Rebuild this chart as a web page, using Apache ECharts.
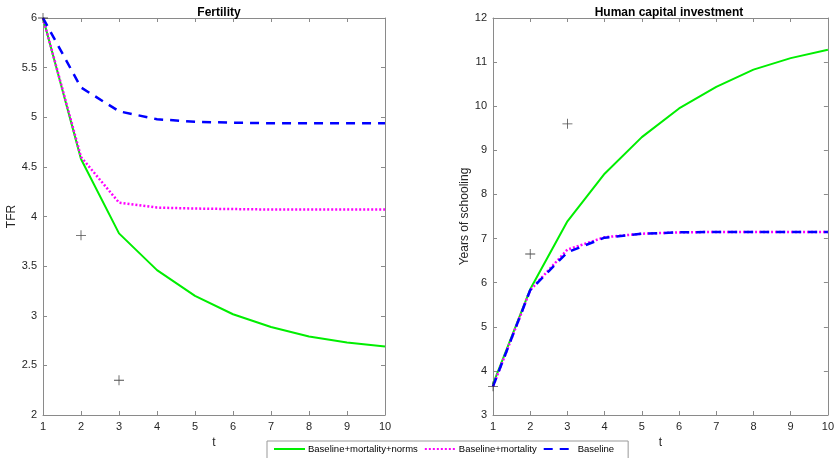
<!DOCTYPE html>
<html><head><meta charset="utf-8">
<script src="https://cdn.jsdelivr.net/npm/echarts@6/dist/echarts.min.js"></script>
<style>html,body{margin:0;padding:0;background:#fff}#c{width:837px;height:458px}</style>
</head><body><div id="c"></div>
<script>
var t = [1,2,3,4,5,6,7,8,9,10];
var tfrNorms = [6, 4.58, 3.83, 3.46, 3.20, 3.015, 2.887, 2.79, 2.73, 2.69];
var tfrMort  = [6, 4.60, 4.14, 4.09, 4.08, 4.075, 4.07, 4.07, 4.07, 4.07];
var tfrBase  = [6, 5.30, 5.06, 4.98, 4.955, 4.945, 4.94, 4.94, 4.94, 4.94];
var tfrData  = [[1,6],[2,3.81],[3,2.35]];
var schNorms = [3.70, 5.85, 7.39, 8.47, 9.30, 9.95, 10.44, 10.83, 11.09, 11.28];
var schMort  = [3.65, 5.83, 6.75, 7.03, 7.11, 7.14, 7.15, 7.15, 7.15, 7.15];
var schBase  = [3.65, 5.83, 6.69, 7.02, 7.11, 7.14, 7.15, 7.15, 7.15, 7.15];
var schData  = [[1,3.65],[2,6.65],[3,9.6]];
var names = ['Baseline+mortality+norms','Baseline+mortality','Baseline'];

function pairs(v){ return t.map(function(x,i){ return [x, v[i]]; }); }
var FONT = 'Liberation Sans, Arial, sans-serif';
var axCol = '#8a8a8a', txtCol = '#262626';
function xAx(grid, top){
  return {type:'value', gridIndex:grid, min:1, max:10, interval:1, position: top?'top':'bottom',
    name: top?'':'t', nameLocation:'middle', nameGap:20, nameTextStyle:{color:txtCol, fontSize:12, fontFamily:FONT},
    axisLine:{show:true, onZero:false, lineStyle:{color:axCol}},
    axisTick:{show:true, inside:true, length:4, lineStyle:{color:axCol}},
    axisLabel:{show:!top, color:txtCol, fontSize:11, fontFamily:FONT, margin:6},
    splitLine:{show:false}};
}
function yAx(grid, right, min, max, interval, name){
  return {type:'value', gridIndex:grid, min:min, max:max, interval:interval, position: right?'right':'left',
    name: right?'':name, nameLocation:'middle', nameGap: grid===0?21:17, nameRotate:90,
    nameTextStyle:{color:txtCol, fontSize:12, fontFamily:FONT},
    axisLine:{show:true, onZero:false, lineStyle:{color:axCol}},
    axisTick:{show:true, inside:true, length:4, lineStyle:{color:axCol}},
    axisLabel:{show:!right, color:txtCol, fontSize:11, fontFamily:FONT, margin:6},
    splitLine:{show:false}};
}
var plus = 'path://M4.6,0h0.8v10h-0.8z M0,4.6h10v0.8h-10z';
function line(name, xi, yi, data, color, type, w){
  return {name:name, type:'line', xAxisIndex:xi, yAxisIndex:yi, data:pairs(data), symbol:'none',
    lineStyle:{color:color, width:w, type:type}, itemStyle:{color:color}, silent:true, animation:false, z:3};
}
function sc(xi, yi, data){
  return {type:'scatter', xAxisIndex:xi, yAxisIndex:yi, data:data, symbol:plus, symbolSize:10,
    itemStyle:{color:'#222'}, silent:true, animation:false, z:4};
}
var dash = [9,7];
var chart = echarts.init(document.getElementById('c'), null, {renderer:'canvas'});
chart.setOption({
  animation:false,
  backgroundColor:'#fff',
  title:[
    {text:'Fertility', left:214, top:2, textAlign:'center', textStyle:{fontSize:12, fontWeight:'bold', color:'#000', fontFamily:FONT}},
    {text:'Human capital investment', left:664, top:2, textAlign:'center', textStyle:{fontSize:12, fontWeight:'bold', color:'#000', fontFamily:FONT}}
  ],
  grid:[
    {left:43, right:452, top:18, bottom:43},
    {left:493, right:2, top:18, bottom:43}
  ],
  xAxis:[xAx(0,false), xAx(0,true), xAx(1,false), xAx(1,true)],
  yAxis:[yAx(0,false,2,6,0.5,'TFR'), yAx(0,true,2,6,0.5,''), yAx(1,false,3,12,1,'Years of schooling'), yAx(1,true,3,12,1,'')],
  legend:{data:names, left:267, top:441, orient:'horizontal', itemGap:6, itemWidth:31, itemHeight:10,
    padding:[3,14,6,6], borderColor:'#999', borderWidth:1, backgroundColor:'#fff',
    itemStyle:{opacity:0},
    textStyle:{fontSize:9.5, color:'#000', fontFamily:FONT, padding:[0,0,0,-2]}, selectedMode:false},
  series:[
    line(names[0],0,0,tfrNorms,'#00ee00','solid',2),
    line(names[1],0,0,tfrMort,'#ff00ff',[2,2],2.5),
    line(names[2],0,0,tfrBase,'#0000ff',dash,2.5),
    sc(0,0,tfrData),
    line(names[0],2,2,schNorms,'#00ee00','solid',2),
    line(names[1],2,2,schMort,'#ff00ff',[2,2],2.5),
    line(names[2],2,2,schBase,'#0000ff',dash,2.5),
    sc(2,2,schData)
  ]
});
</script></body></html>
